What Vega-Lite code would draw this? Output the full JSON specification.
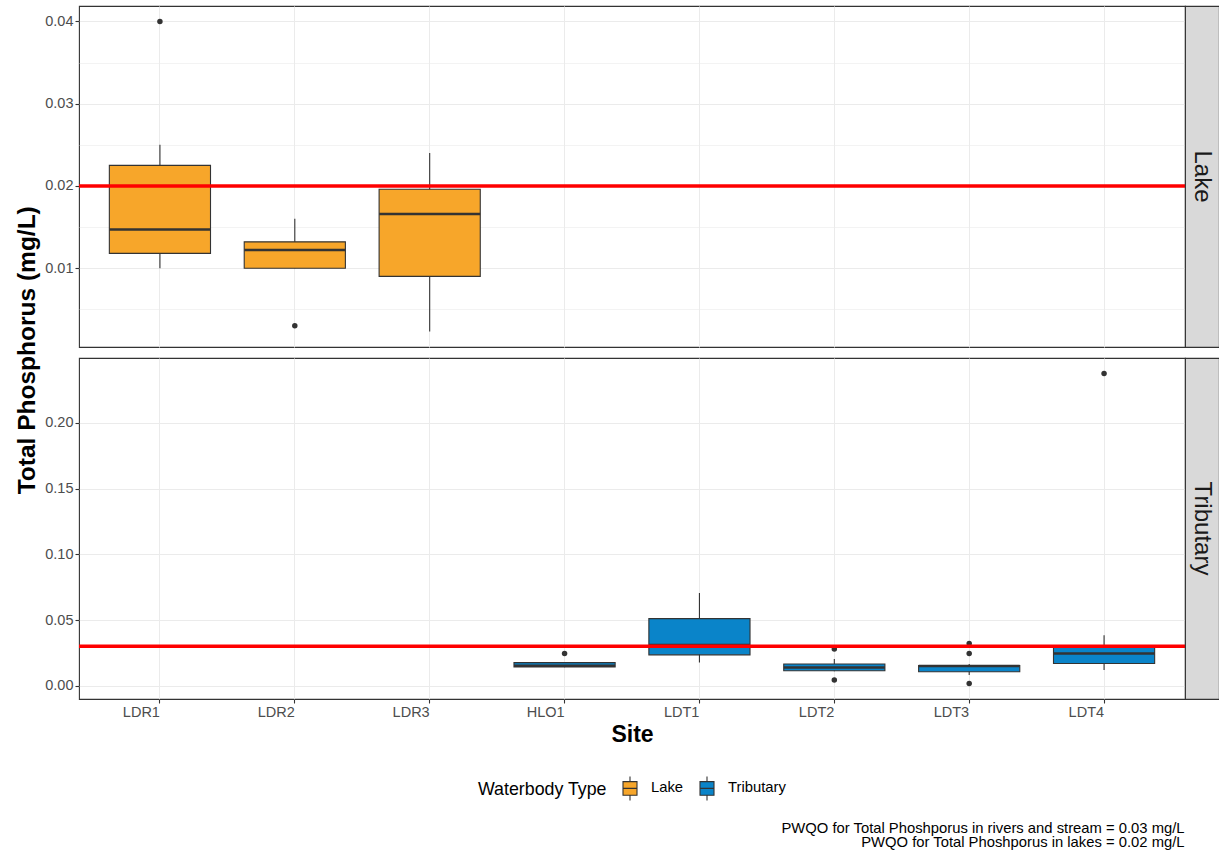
{
  "$schema": "https://vega.github.io/schema/vega-lite/v6.json",
  "padding": {"left": 14, "top": 5, "right": 0, "bottom": 4},
  "background": "white",
  "datasets": {
    "boxes": [
      {"site": "LDR1", "type": "Lake", "lower": 0.010, "q1": 0.0118, "median": 0.0147, "q3": 0.0225, "upper": 0.025},
      {"site": "LDR2", "type": "Lake", "lower": 0.010, "q1": 0.010, "median": 0.0122, "q3": 0.0132, "upper": 0.016},
      {"site": "LDR3", "type": "Lake", "lower": 0.0023, "q1": 0.009, "median": 0.0166, "q3": 0.0196, "upper": 0.024},
      {"site": "HLO1", "type": "Tributary", "lower": 0.0140, "q1": 0.0142, "median": 0.0152, "q3": 0.0176, "upper": 0.0178},
      {"site": "LDT1", "type": "Tributary", "lower": 0.0177, "q1": 0.0235, "median": 0.031, "q3": 0.0511, "upper": 0.0706},
      {"site": "LDT2", "type": "Tributary", "lower": 0.011, "q1": 0.0114, "median": 0.0139, "q3": 0.0165, "upper": 0.0203},
      {"site": "LDT3", "type": "Tributary", "lower": 0.0081, "q1": 0.0106, "median": 0.015, "q3": 0.0154, "upper": 0.0165},
      {"site": "LDT4", "type": "Tributary", "lower": 0.0119, "q1": 0.0169, "median": 0.0245, "q3": 0.0295, "upper": 0.0385}
    ],
    "outliers": [
      {"site": "LDR1", "type": "Lake", "value": 0.04},
      {"site": "LDR2", "type": "Lake", "value": 0.003},
      {"site": "HLO1", "type": "Tributary", "value": 0.0245},
      {"site": "LDT2", "type": "Tributary", "value": 0.0279},
      {"site": "LDT2", "type": "Tributary", "value": 0.0043},
      {"site": "LDT3", "type": "Tributary", "value": 0.0321},
      {"site": "LDT3", "type": "Tributary", "value": 0.0245},
      {"site": "LDT3", "type": "Tributary", "value": 0.0017},
      {"site": "LDT4", "type": "Tributary", "value": 0.2376}
    ],
    "refs": [
      {"type": "Lake", "value": 0.02},
      {"type": "Tributary", "value": 0.03}
    ]
  },
  "title": {
    "text": ["PWQO for Total Phoshporus in rivers and stream = 0.03 mg/L", "PWQO for Total Phoshporus in lakes  = 0.02 mg/L"],
    "orient": "bottom", "anchor": "end", "align": "right", "fontSize": 14.8, "fontWeight": "normal",
    "color": "#000000", "lineHeight": 14, "offset": 18, "dx": -35
  },
  "vconcat": [
    {
      "title": {"text": "Total Phosphorus (mg/L)", "orient": "left", "anchor": "middle", "fontSize": 24.5, "fontWeight": "bold", "color": "#000000", "offset": 4, "dx": 26},
      "spacing": 9,
      "vconcat": [
        {
          "spacing": 0,
          "bounds": "flush",
          "hconcat": [
            {
              "width": 1106, "height": 341,
              "view": {"stroke": "#333333", "strokeWidth": 1.1, "fill": "white"},
              "layer": [
                {
                  "data": {"name": "boxes"},
                  "transform": [{"filter": "datum.type === 'Lake'"}],
                  "mark": {"type": "rule", "color": "#333333", "strokeWidth": 1.1},
                  "encoding": {
                    "x": {"field": "site", "type": "nominal", "scale": {"domain": ["LDR1","LDR2","LDR3","HLO1","LDT1","LDT2","LDT3","LDT4"], "paddingInner": 0.25, "paddingOuter": 0.225},
                          "axis": {"title": null, "labels": false, "ticks": false, "grid": true, "bandPosition": 0.5}},
                    "y": {"field": "lower", "type": "quantitative", "scale": {"domain": [0.000415, 0.041885], "nice": false, "zero": false},
                          "axis": {"title": null, "grid": true,
                                   "values": [0.005, 0.01, 0.015, 0.02, 0.025, 0.03, 0.035, 0.04],
                                   "labelExpr": "indexof([0.01, 0.02, 0.03, 0.04], datum.value) >= 0 ? format(datum.value, '.2f') : ''",
                                   "tickOpacity": {"condition": {"test": "indexof([0.01, 0.02, 0.03, 0.04], datum.value) >= 0", "value": 1}, "value": 0},
                                   "gridWidth": {"condition": {"test": "indexof([0.01, 0.02, 0.03, 0.04], datum.value) >= 0", "value": 1.1}, "value": 0.6}}},
                    "y2": {"field": "upper"}
                  }
                },
                {
                  "data": {"name": "boxes"},
                  "transform": [{"filter": "datum.type === 'Lake'"}],
                  "mark": {"type": "bar", "stroke": "#333333", "strokeWidth": 1.1},
                  "encoding": {
                    "x": {"field": "site", "type": "nominal"},
                    "y": {"field": "q1", "type": "quantitative", "title": null},
                    "y2": {"field": "q3"},
                    "fill": {"field": "type", "type": "nominal", "title": "Waterbody Type", "scale": {"domain": ["Lake", "Tributary"], "range": ["#F7A62A", "#0A84C9"]}}
                  }
                },
                {
                  "data": {"name": "boxes"},
                  "transform": [{"filter": "datum.type === 'Lake'"}],
                  "mark": {"type": "tick", "orient": "horizontal", "color": "#333333", "thickness": 2.5, "size": 101, "opacity": 1},
                  "encoding": {
                    "x": {"field": "site", "type": "nominal"},
                    "y": {"field": "median", "type": "quantitative", "title": null}
                  }
                },
                {
                  "data": {"name": "outliers"},
                  "transform": [{"filter": "datum.type === 'Lake'"}],
                  "mark": {"type": "circle", "size": 30, "color": "#333333", "opacity": 1},
                  "encoding": {
                    "x": {"field": "site", "type": "nominal"},
                    "y": {"field": "value", "type": "quantitative", "title": null}
                  }
                },
                {
                  "data": {"name": "refs"},
                  "transform": [{"filter": "datum.type === 'Lake'"}],
                  "mark": {"type": "rule", "color": "#FF0000", "strokeWidth": 3.5},
                  "encoding": {
                    "y": {"field": "value", "type": "quantitative", "title": null}
                  }
                }
              ]
            },
            {
              "width": 34, "height": 341,
              "view": {"fill": "#D9D9D9", "stroke": "#333333", "strokeWidth": 1.1},
              "data": {"name": "refs"},
              "transform": [{"filter": "datum.type === 'Lake'"}],
              "mark": {"type": "text", "angle": 90, "fontSize": 24, "color": "#1A1A1A", "align": "center", "baseline": "middle"},
              "encoding": {"text": {"field": "type", "type": "nominal"}}
            }
          ]
        },
        {
          "spacing": 0,
          "bounds": "flush",
          "hconcat": [
            {
              "width": 1106, "height": 341,
              "view": {"stroke": "#333333", "strokeWidth": 1.1, "fill": "white"},
              "layer": [
                {
                  "data": {"name": "boxes"},
                  "transform": [{"filter": "datum.type === 'Tributary'"}],
                  "mark": {"type": "rule", "color": "#333333", "strokeWidth": 1.1},
                  "encoding": {
                    "x": {"field": "site", "type": "nominal", "scale": {"domain": ["LDR1","LDR2","LDR3","HLO1","LDT1","LDT2","LDT3","LDT4"], "paddingInner": 0.25, "paddingOuter": 0.225},
                          "axis": {"title": "Site", "labelAngle": 0, "labelAlign": "right", "labelBaseline": "top", "grid": true, "bandPosition": 0.5, "titlePadding": 5}},
                    "y": {"field": "lower", "type": "quantitative", "scale": {"domain": [-0.0101, 0.2494], "nice": false, "zero": false},
                          "axis": {"title": null, "grid": true,
                                   "values": [0, 0.025, 0.05, 0.075, 0.1, 0.125, 0.15, 0.175, 0.2, 0.225],
                                   "labelExpr": "indexof([0, 0.05, 0.1, 0.15, 0.2], datum.value) >= 0 ? format(datum.value, '.2f') : ''",
                                   "tickOpacity": {"condition": {"test": "indexof([0, 0.05, 0.1, 0.15, 0.2], datum.value) >= 0", "value": 1}, "value": 0},
                                   "gridWidth": {"condition": {"test": "indexof([0, 0.05, 0.1, 0.15, 0.2], datum.value) >= 0", "value": 1.1}, "value": 0.6}}},
                    "y2": {"field": "upper"}
                  }
                },
                {
                  "data": {"name": "boxes"},
                  "transform": [{"filter": "datum.type === 'Tributary'"}],
                  "mark": {"type": "bar", "stroke": "#333333", "strokeWidth": 1.1},
                  "encoding": {
                    "x": {"field": "site", "type": "nominal"},
                    "y": {"field": "q1", "type": "quantitative", "title": null},
                    "y2": {"field": "q3"},
                    "fill": {"field": "type", "type": "nominal", "title": "Waterbody Type", "scale": {"domain": ["Lake", "Tributary"], "range": ["#F7A62A", "#0A84C9"]}}
                  }
                },
                {
                  "data": {"name": "boxes"},
                  "transform": [{"filter": "datum.type === 'Tributary'"}],
                  "mark": {"type": "tick", "orient": "horizontal", "color": "#333333", "thickness": 2.5, "size": 101, "opacity": 1},
                  "encoding": {
                    "x": {"field": "site", "type": "nominal"},
                    "y": {"field": "median", "type": "quantitative", "title": null}
                  }
                },
                {
                  "data": {"name": "outliers"},
                  "transform": [{"filter": "datum.type === 'Tributary'"}],
                  "mark": {"type": "circle", "size": 30, "color": "#333333", "opacity": 1},
                  "encoding": {
                    "x": {"field": "site", "type": "nominal"},
                    "y": {"field": "value", "type": "quantitative", "title": null}
                  }
                },
                {
                  "data": {"name": "refs"},
                  "transform": [{"filter": "datum.type === 'Tributary'"}],
                  "mark": {"type": "rule", "color": "#FF0000", "strokeWidth": 3.5},
                  "encoding": {
                    "y": {"field": "value", "type": "quantitative", "title": null}
                  }
                }
              ]
            },
            {
              "width": 34, "height": 341,
              "view": {"fill": "#D9D9D9", "stroke": "#333333", "strokeWidth": 1.1},
              "data": {"name": "refs"},
              "transform": [{"filter": "datum.type === 'Tributary'"}],
              "mark": {"type": "text", "angle": 90, "fontSize": 24, "color": "#1A1A1A", "align": "center", "baseline": "middle"},
              "encoding": {"text": {"field": "type", "type": "nominal"}}
            }
          ]
        }
      ]
    }
  ],
  "resolve": {"scale": {"fill": "shared"}},
  "config": {
    "font": "Liberation Sans",
    "axis": {
      "gridColor": "#EBEBEB", "labelColor": "#4D4D4D", "labelFontSize": 14.5, "labelPadding": 2,
      "tickColor": "#333333", "tickSize": 4, "tickWidth": 1.1, "domain": false,
      "titleColor": "#000000", "titleFontSize": 23, "titleFontWeight": "bold"
    },
    "legend": {
      "orient": "none", "legendX": 399, "legendY": 771, "direction": "horizontal", "titleOrient": "left",
      "titleFontSize": 17.8, "titleFontWeight": "normal", "titleColor": "#000000", "titlePadding": 12,
      "labelFontSize": 14.8, "labelColor": "#000000", "labelOffset": 10, "columnPadding": 12,
      "symbolType": "M-0.7,-0.68H0.7V0.68H-0.7Z M-0.7,0H0.7 M0,-0.68V-1.2 M0,0.68V1.2",
      "symbolSize": 400, "symbolStrokeColor": "#333333", "symbolStrokeWidth": 1.1, "symbolOpacity": 1
    }
  }
}
